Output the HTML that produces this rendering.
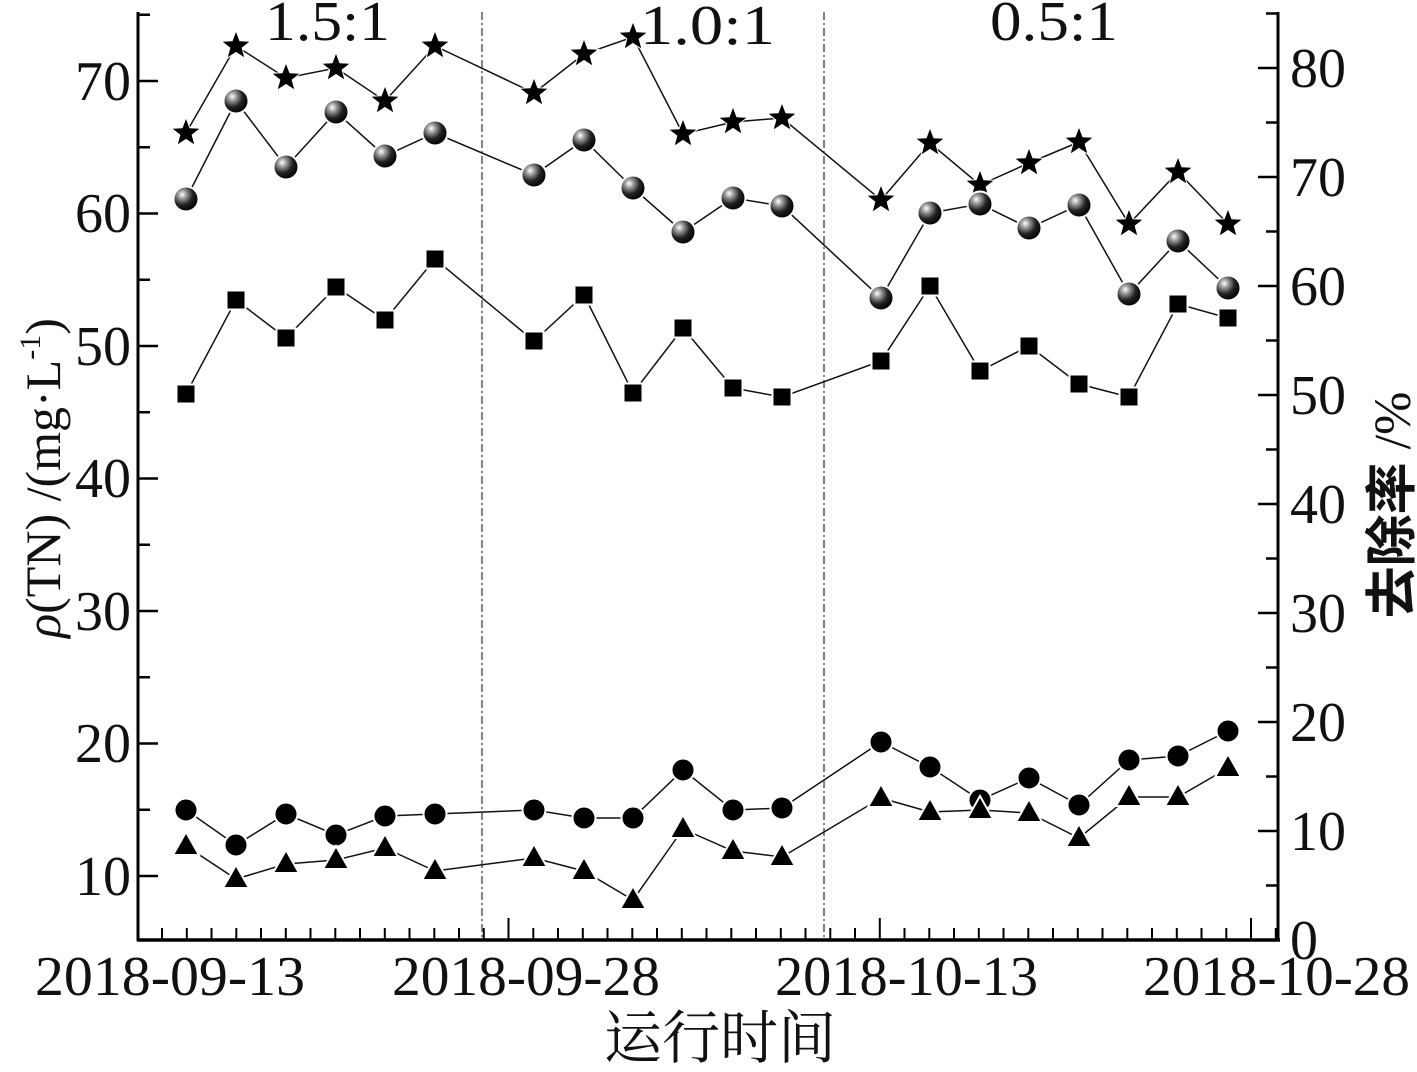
<!DOCTYPE html>
<html><head><meta charset="utf-8"><style>
html,body{margin:0;padding:0;background:#fff;}
svg{display:block;}
text{font-family:"Liberation Serif","Noto Serif CJK SC",serif;fill:#111;}
</style></head><body>
<svg id="s" width="1417" height="1072" viewBox="0 0 1417 1072" xmlns="http://www.w3.org/2000/svg">
<defs>
<radialGradient id="g" cx="0.35" cy="0.32" r="0.7">
<stop offset="0" stop-color="#fff"/><stop offset="0.25" stop-color="#999"/><stop offset="0.6" stop-color="#222"/><stop offset="1" stop-color="#000"/>
</radialGradient>
</defs>
<g id="ax" stroke="#000" fill="none"></g>
<line x1="482" y1="12" x2="482" y2="940" stroke="#333" stroke-width="1.2" stroke-dasharray="8,3,2,3"/>
<line x1="824" y1="12" x2="824" y2="940" stroke="#333" stroke-width="1.2" stroke-dasharray="8,3,2,3"/>
<g id="d"></g>
<g font-size="56">
<text x="131" y="100" text-anchor="end">70</text>
<text x="131" y="232" text-anchor="end">60</text>
<text x="131" y="365" text-anchor="end">50</text>
<text x="131" y="497" text-anchor="end">40</text>
<text x="131" y="630" text-anchor="end">30</text>
<text x="131" y="762" text-anchor="end">20</text>
<text x="131" y="895" text-anchor="end">10</text>
<text x="1290" y="87">80</text>
<text x="1290" y="196">70</text>
<text x="1290" y="305">60</text>
<text x="1290" y="414">50</text>
<text x="1290" y="523">40</text>
<text x="1290" y="632">30</text>
<text x="1290" y="741">20</text>
<text x="1290" y="850">10</text>
<text x="1290" y="959">0</text>
<text x="35" y="995" textLength="270" lengthAdjust="spacingAndGlyphs">2018-09-13</text>
<text x="392" y="995" textLength="268" lengthAdjust="spacingAndGlyphs">2018-09-28</text>
<text x="775" y="995" textLength="263" lengthAdjust="spacingAndGlyphs">2018-10-13</text>
<text x="1143" y="995" textLength="267" lengthAdjust="spacingAndGlyphs">2018-10-28</text>
<text x="265" y="40" textLength="125" lengthAdjust="spacingAndGlyphs">1.5:1</text>
<text x="640" y="44" textLength="135" lengthAdjust="spacingAndGlyphs">1.0:1</text>
<text x="990" y="40" textLength="128" lengthAdjust="spacingAndGlyphs">0.5:1</text>
</g>
<text x="720" y="1058" font-size="58" text-anchor="middle">运行时间</text>
<text transform="translate(60,478) rotate(-90)" font-size="50" text-anchor="middle"><tspan font-style="italic">ρ</tspan>(TN) /(mg·L<tspan font-size="30" dy="-20">-1</tspan><tspan dy="20">)</tspan></text>
<text transform="translate(1410,505) rotate(-90)" font-size="52" text-anchor="middle"><tspan style="font-family:'Noto Sans CJK SC',sans-serif;font-weight:bold">去除率</tspan> /%</text>
</svg>
<script>
var NS="http://www.w3.org/2000/svg";
function el(p,t,a){var e=document.createElementNS(NS,t);for(var k in a)e.setAttribute(k,a[k]);p.appendChild(e);return e;}
var ax=document.getElementById('ax'),d=document.getElementById('d');
el(ax,'line',{x1:138,y1:12,x2:138,y2:941,'stroke-width':3});
el(ax,'line',{x1:1278,y1:12,x2:1278,y2:941,'stroke-width':3});
el(ax,'line',{x1:137,y1:940,x2:1280,y2:940,'stroke-width':3.5});
for(var v=5;v<=75;v+=5){var y=876-(v-10)*13.25;if(y>940)continue;var L=(v%10==0)?20:12;el(ax,'line',{x1:138,y1:y,x2:138+L,y2:y,'stroke-width':2.5});}
for(var v=0;v<=85;v+=5){var y=940-v*10.9;var L=(v%10==0)?20:12;el(ax,'line',{x1:1278,y1:y,x2:1278-L,y2:y,'stroke-width':2.5});}
for(var x=162;x<1278;x+=24.75){var X=Math.round(x*10)/10;var maj=Math.abs(X-510)<3||Math.abs(X-881)<3||Math.abs(X-1252)<3;el(ax,'line',{x1:X,y1:940,x2:X,y2:940-(maj?22:12),'stroke-width':2});}
var xs=[186,236,286,336,385,435,534,584,633,683,733,782,881,930,980,1029,1079,1129,1178,1228];
var S=[133,46,78,68,101,46,93,54,37,134,122,118,200,143,185,163,142,224,172,224];
var B=[199,101,167,112,156,133,175,140,188,232,198,206,298,213,204,228,205,294,241,288];
var Q=[394,300,338,287,320,259,341,295,393,328,388,397,361,286,371,346,384,397,304,318];
var C=[810,845,814,835,816,814,810,818,818,770,810,808,742,767,800,778,805,760,756,731];
var T=[846,879,864,860,848,871,858,871,900,829,851,857,798,812,810,813,838,797,797,768];
function line(ys){var p=xs.map(function(x,i){return x+','+ys[i]}).join(' ');el(d,'polyline',{points:p,fill:'none',stroke:'#111','stroke-width':1.5});}
[S,B,Q,C,T].forEach(line);
function star(cx,cy,r){var p=[];for(var i=0;i<10;i++){var a=-Math.PI/2+i*Math.PI/5,rr=i%2?r*0.42:r;p.push((cx+rr*Math.cos(a)).toFixed(1)+','+(cy+rr*Math.sin(a)).toFixed(1));}el(d,'polygon',{points:p.join(' '),fill:'#000',stroke:'#fff','stroke-width':2});el(d,'polygon',{points:p.join(' '),fill:'#000'});}
xs.forEach(function(x,i){
star(x,S[i],14);
el(d,'circle',{cx:x,cy:B[i],r:12.5,fill:'url(#g)',stroke:'#fff','stroke-width':2});
el(d,'rect',{x:x-9.5,y:Q[i]-9.5,width:19,height:19,fill:'#000',stroke:'#fff','stroke-width':2});
el(d,'circle',{cx:x,cy:C[i],r:11.5,fill:'#000',stroke:'#fff','stroke-width':2});
el(d,'polygon',{points:(x-13)+','+(T[i]+9)+' '+(x+13)+','+(T[i]+9)+' '+x+','+(T[i]-14),fill:'#000',stroke:'#fff','stroke-width':2});
});
</script>
</body></html>
